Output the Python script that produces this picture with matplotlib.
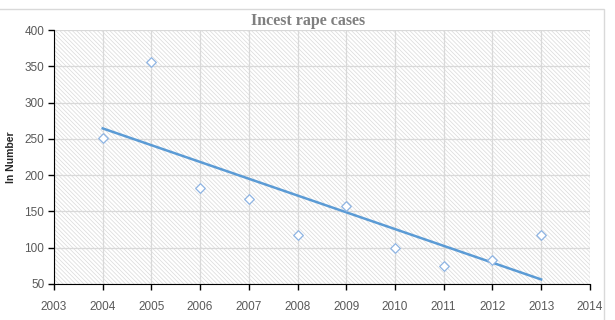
import matplotlib
matplotlib.use("Agg")
import matplotlib.pyplot as plt
import numpy
from matplotlib.patches import Rectangle

years = [2004, 2005, 2006, 2007, 2008, 2009, 2010, 2011, 2012, 2013]
cases = [251, 356, 182, 167, 117, 157, 99, 75, 83, 117]
x_ticks = list(range(2003, 2015))
y_ticks = [50, 100, 150, 200, 250, 300, 350, 400]

plt.rcParams["hatch.color"] = "#dadada"
plt.rcParams["hatch.linewidth"] = 0.5

fig = plt.figure(figsize=(6.15, 3.2), dpi=100)
ax = fig.add_axes([0.0878, 0.1125, 0.8712, 0.7935])

# hatched plot background
ax.add_patch(Rectangle((0, 0), 1, 1, transform=ax.transAxes, facecolor="white",
                       edgecolor="#dadada", hatch="\\\\\\\\\\\\\\\\", linewidth=0, zorder=0))

ax.grid(True, color="#d9d9d9", linewidth=0.9, zorder=1)
ax.set_axisbelow(True)

ax.scatter(years, cases, marker="D", s=24, facecolors="white", edgecolors="#8eb4e3",
           linewidths=0.9, zorder=3)

# linear trendline
coef = numpy.polyfit(years, cases, 1)
trend_x = numpy.array([years[0], years[-1]])
ax.plot(trend_x, numpy.polyval(coef, trend_x), color="#5b9bd5", linewidth=1.8, zorder=2)

ax.set_xlim(2003, 2014)
ax.set_ylim(50, 400)
ax.set_xticks(x_ticks)
ax.set_yticks(y_ticks)
for lbl in ax.get_xticklabels() + ax.get_yticklabels():
    lbl.set_fontfamily("Liberation Sans")
    lbl.set_fontsize(8.5)
    lbl.set_color("#595959")
ax.tick_params(axis="x", direction="out", length=4, width=1, color="black", pad=8)
ax.tick_params(axis="y", direction="out", length=4, width=1, color="black", pad=3)

for side in ["top", "right"]:
    ax.spines[side].set_visible(False)
ax.spines["left"].set_color("black")
ax.spines["bottom"].set_color("black")

ax.set_ylabel("In Number", fontfamily="Liberation Sans", fontweight="bold", fontsize=7.5,
              color="#262626", labelpad=6)
fig.text(0.501, 0.934, "Incest rape cases", ha="center", va="center",
         fontfamily="Liberation Serif", fontweight="bold", fontsize=11.5, color="#7f7f7f")

# chart frame
fig.add_artist(Rectangle((-0.01, -0.05), 0.992, 1.022, transform=fig.transFigure,
                         fill=False, edgecolor="#d9d9d9", linewidth=1.0))

fig.savefig("out.png", dpi=100)
